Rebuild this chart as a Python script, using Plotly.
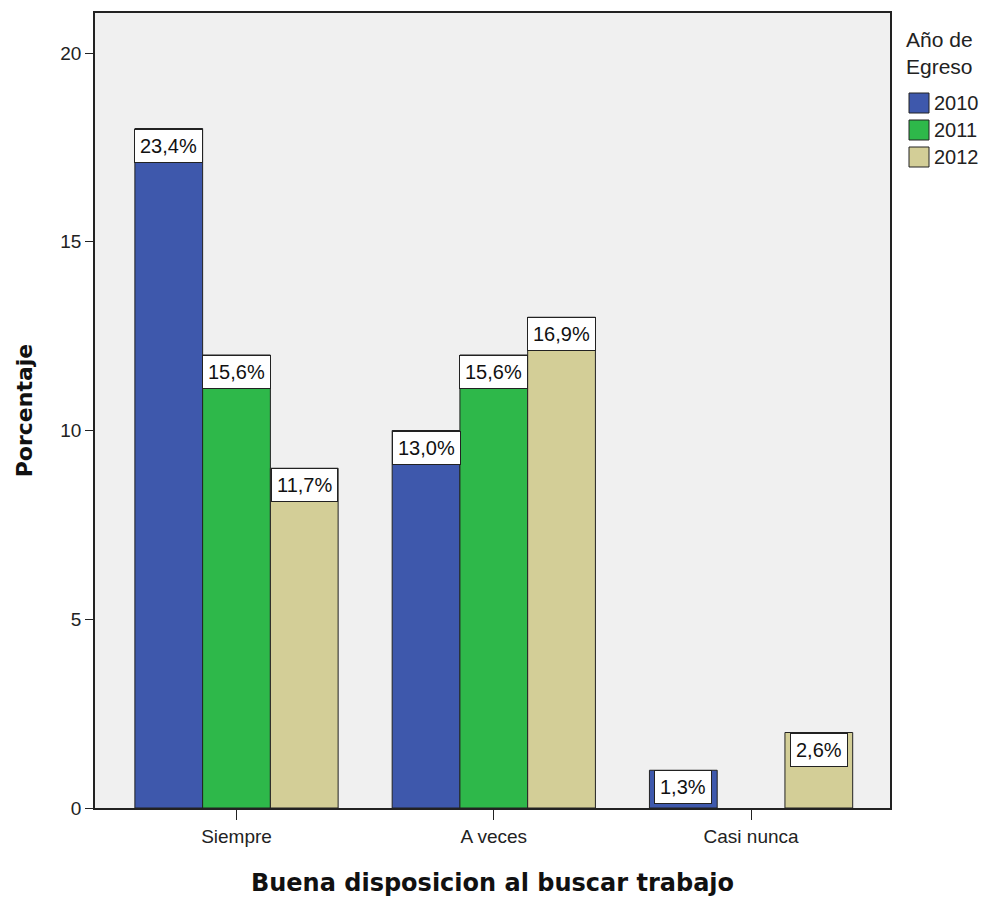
import plotly.graph_objects as go

# Response categories and graduation years
categories = ["Siempre", "A veces", "Casi nunca"]
years = ["2010", "2011", "2012"]

# Counts of respondents per category for each year (bar heights)
counts_2010 = [18, 10, 1]
counts_2011 = [12, 12, 0]
counts_2012 = [9, 13, 2]
total_n = 77  # respondents in the whole sample

series = [counts_2010, counts_2011, counts_2012]
colors = ["#3E58AC", "#2EB84A", "#D3CE97"]

BASE_FONT = "Liberation Sans, Arial, sans-serif"
TITLE_FONT = "DejaVu Sans, Verdana, sans-serif"

bargap = 0.21
bar_w = (1 - bargap) / len(years)
xpos = list(range(len(categories)))

fig = go.Figure()
for year, vals, col in zip(years, series, colors):
    fig.add_trace(go.Bar(
        x=xpos, y=[v if v else None for v in vals], name=year,
        marker=dict(color=col, line=dict(color="#222222", width=1)),
        showlegend=False,
    ))

# Percentage labels boxed at the top inside each bar
annotations = []
for k, vals in enumerate(series):
    for i, v in enumerate(vals):
        if v == 0:
            continue
        pct = v / total_n * 100
        annotations.append(dict(
            x=i + (k - 1) * bar_w, y=v, xref="x", yref="y",
            text=f"{pct:.1f}%".replace(".", ","),
            showarrow=False, yanchor="top", xanchor="center",
            font=dict(family=BASE_FONT, size=20, color="#111111"),
            bgcolor="white", bordercolor="#222222", borderwidth=1, borderpad=5,
        ))

# Legend drawn beside the plot: title and colour swatches
L_PX, T_PX, PW, PH = 95, 13, 795, 795


def px_x(px):
    return (px - L_PX) / PW


def px_y(py):
    return 1 - (py - T_PX) / PH


annotations.append(dict(
    x=px_x(904), y=px_y(26), xref="paper", yref="paper",
    text="Año de<br>Egreso", showarrow=False, xanchor="left", yanchor="top", align="left",
    font=dict(family=BASE_FONT, size=21, color="#222222"),
))
shapes = []
row_y = [103, 130, 157]
for year, col, ry in zip(years, colors, row_y):
    shapes.append(dict(
        type="rect", xref="paper", yref="paper",
        x0=px_x(909), x1=px_x(929), y0=px_y(ry - 10), y1=px_y(ry + 10),
        fillcolor=col, line=dict(color="#222222", width=1),
    ))
    annotations.append(dict(
        x=px_x(932), y=px_y(ry), xref="paper", yref="paper",
        text=year, showarrow=False, xanchor="left", yanchor="middle",
        font=dict(family=BASE_FONT, size=20, color="#222222"),
    ))

fig.update_layout(
    width=987, height=897,
    margin=dict(l=95, r=97, t=13, b=89),
    paper_bgcolor="white", plot_bgcolor="#F0F0F0",
    barmode="group", bargap=bargap, bargroupgap=0,
    font=dict(family=BASE_FONT, size=19, color="#222222"),
    annotations=annotations, shapes=shapes,
    showlegend=False,
    xaxis=dict(
        tickvals=xpos, ticktext=categories, range=[-0.55, 2.54],
        ticks="outside", ticklen=10, tickcolor="#222222",
        showline=True, linecolor="#222222", linewidth=1.5, mirror=True,
        showgrid=False, zeroline=False, automargin=False,
        tickfont=dict(size=19, color="#222222"),
        title=dict(text="<b>Buena disposicion al buscar trabajo</b>",
                   font=dict(family=TITLE_FONT, size=24, color="#111111"), standoff=30),
    ),
    yaxis=dict(
        range=[0, 21.06], tickvals=[0, 5, 10, 15, 20],
        ticks="outside", ticklen=8, tickcolor="#222222",
        showline=True, linecolor="#222222", linewidth=1.5, mirror=True,
        showgrid=False, zeroline=False, automargin=False,
        tickfont=dict(size=19, color="#222222"),
        title=dict(text="<b>Porcentaje</b>",
                   font=dict(family=TITLE_FONT, size=22, color="#111111"), standoff=22),
    ),
)

fig.write_html("out.html")
